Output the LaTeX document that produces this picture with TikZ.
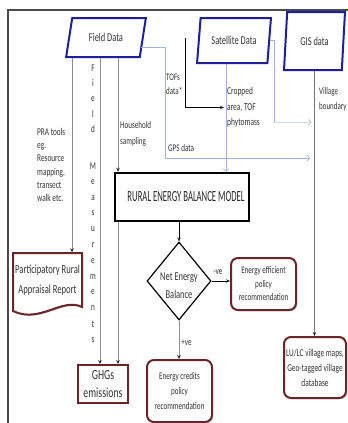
\documentclass[tikz,border=0pt]{standalone}
\usepackage{fontspec}
\setmainfont{Carlito}[FakeStretch=0.7]
\newfontfamily\titlefont{Carlito}[FakeStretch=0.56]
\usetikzlibrary{arrows.meta,shapes.geometric,shadows}
\definecolor{parablue}{HTML}{1F1F9C}
\definecolor{boxred}{HTML}{6B2529}
\definecolor{txt}{HTML}{333333}
\definecolor{lgray}{HTML}{8E8E8E}
\definecolor{lblue}{HTML}{9EB4DA}
\definecolor{framec}{HTML}{4A4A4A}
\tikzset{
  para/.style={trapezium, trapezium stretches=true, draw=parablue, line width=2pt,
    inner sep=0pt, text=txt, font=\fontsize{12}{14}\selectfont},
  redbox/.style={draw=boxred, line width=2pt, rounded corners=7pt, align=center, text=txt,
    inner sep=0pt, fill=white,
    drop shadow={shadow xshift=1.2pt, shadow yshift=-1.2pt, fill=black!50, opacity=0.5}},
  lbl/.style={text=txt, font=\fontsize{10.2}{13.3}\selectfont, inner sep=0pt, align=left, anchor=west},
  gl/.style={draw=lgray, line width=0.7pt},
  bl/.style={draw=lblue, line width=0.7pt},
  blk/.style={-{Stealth[length=4pt,width=3.5pt,color=black!85]}},
  opn/.style={-{Straight Barb[length=2.5pt,width=6pt,color=lblue]}}
}
\begin{document}
\begin{tikzpicture}[x=1pt,y=-1pt]
\useasboundingbox (0,0) rectangle (348,423);
% frame
\draw[framec, line width=1.2pt] (8,423) -- (8,10) -- (348,10);

% helper x positions
\coordinate (x72) at (72,0);
\coordinate (x100) at (100,0);
\coordinate (x118) at (118,0);
\coordinate (x226) at (226,0);

% data parallelograms
\node[para, trapezium left angle=70, trapezium right angle=110,
      minimum width=80pt, minimum height=39pt] (fd) at (106,37.5) {Field Data};
\node[para, trapezium left angle=74, trapezium right angle=106,
      minimum width=74pt, minimum height=45pt] (sat) at (234,40.5) {Satellite Data};
\node[para, trapezium left angle=79, trapezium right angle=101,
      minimum width=61pt, minimum height=58pt] (gis) at (314.5,41) {GIS data};

% model box
\node[draw=black, line width=2.5pt, minimum width=134pt, minimum height=48pt, inner sep=0pt,
      text=black!85, font=\titlefont\fontsize{15.5}{17}\selectfont] (rem) at (182,197)
      {\hspace{8pt}RURAL ENERGY BALANCE MODEL};

% decision
\node[diamond, draw=black, line width=1.2pt, minimum width=64pt, minimum height=78pt,
      inner sep=0pt] (dia) at (179,281) {};
\node[text=txt, font=\fontsize{12}{18}\selectfont, align=center, inner sep=0pt] (diat)
      at (179,286) {Net Energy\\Balance};

% outputs
\node[redbox, minimum width=65pt, minimum height=52pt, font=\fontsize{10.1}{13.5}\selectfont]
      (eff) at (263.5,284) {Energy efficient\\policy\\recommendation};
\node[redbox, minimum width=65pt, minimum height=62pt, font=\fontsize{10.1}{15}\selectfont]
      (cred) at (179.5,391) {Energy credits\\policy\\recommendation};
\node[redbox, minimum width=62pt, minimum height=61pt, font=\fontsize{10.5}{15}\selectfont]
      (lulc) at (315,367.5) {LU/LC village maps,\\Geo-tagged village\\database};
\node[redbox, rounded corners=0pt, minimum width=50pt, minimum height=38pt,
      font=\fontsize{14}{18}\selectfont] (ghg) at (103,384) {GHGs\\emissions};

% PRA document shape
\draw[draw=boxred, line width=2pt, fill=white,
      drop shadow={shadow xshift=1.2pt, shadow yshift=-1.2pt, fill=black!50, opacity=0.5}]
  (13,253) -- (82,253) -- (82,307) .. controls (62,297) and (40,324) .. (13,311) -- cycle;
\node[text=txt, align=center, inner sep=0pt, minimum width=69pt, minimum height=55pt,
      font=\fontsize{12.3}{20}\selectfont] (pra) at (47.5,280)
      {Participatory Rural\\Appraisal Report};

% labels
\node[lbl, font=\fontsize{10}{14}\selectfont] (tofs) at (166,84) {TOFs\\data*};
\node[lbl, font=\fontsize{10.6}{15.5}\selectfont] (crop) at (227,107.5) {Cropped\\area, TOF\\phytomass};
\node[lbl, font=\fontsize{10}{15}\selectfont] (vb) at (319,99.5) {Village\\boundary};
\node[lbl, font=\fontsize{10.1}{16}\selectfont] (hh) at (120,133.5) {Household\\sampling};
\node[lbl] (gps) at (168,148) {GPS data};
\node[lbl, font=\fontsize{10.4}{13.2}\selectfont] (pratools) at (37,165)
      {PRA tools\\eg.\\Resource\\mapping,\\transect\\walk etc.};
\node[lbl, anchor=center] (neg) at (218,272) {-ve};
\node[lbl, anchor=center] (pos) at (186.5,343) {+ve};
\foreach \ch/\yy [count=\k] in {F/68,i/83,e/99,l/114,d/129,M/166,e/182,a/198,s/213,u/229,r/245,e/261,m/277,e/292,n/308,t/324,s/340}
  \node[lbl, anchor=center] (fm\k) at (93,\yy) {\ch};

% free-end coordinates
\coordinate (gpsEnd) at (310,158);
\coordinate (satTurn) at (274,122);
\coordinate (satEnd) at (311,122);
\coordinate (tofTop) at (185,38);

% connectors from Field Data
\draw[gl, blk] (fd.south -| x72) -- (pra.north -| x72);
\draw[gl, blk] (fd.south -| x100) -- (ghg.north -| x100);
\draw[gl, blk] (fd.south -| x118) -- (rem.north -| x118);
\draw[gl, blk] (rem.south -| x118) -- (ghg.north -| x118);
\draw[bl, opn] ([shift={(-3,9.5)}]fd.east) -- ++(25,0) |- (gpsEnd);

% satellite connectors
\draw[bl] (sat.east) -| (satTurn);
\draw[draw=lblue!45, line width=0.5pt, opn] (satTurn) -- (satEnd);
\draw[bl, opn] (sat.south -| x226) -- (rem.north -| x226);
\draw[draw=black, line width=0.7pt, blk] (tofTop) |- ([xshift=-3pt]crop.west);

% GIS
\draw[draw=black!55, line width=0.7pt, blk] (gis.south) -- (gis.south |- lulc.north);

% model flow
\draw[draw=black, line width=0.8pt, blk] (dia.north |- rem.south) -- (dia.north);
\draw[draw=black, line width=0.8pt, blk] (dia.east) -- (dia.east -| eff.west);
\draw[gl, blk] (dia.south) -- (dia.south |- cred.north);
\end{tikzpicture}
\end{document}
